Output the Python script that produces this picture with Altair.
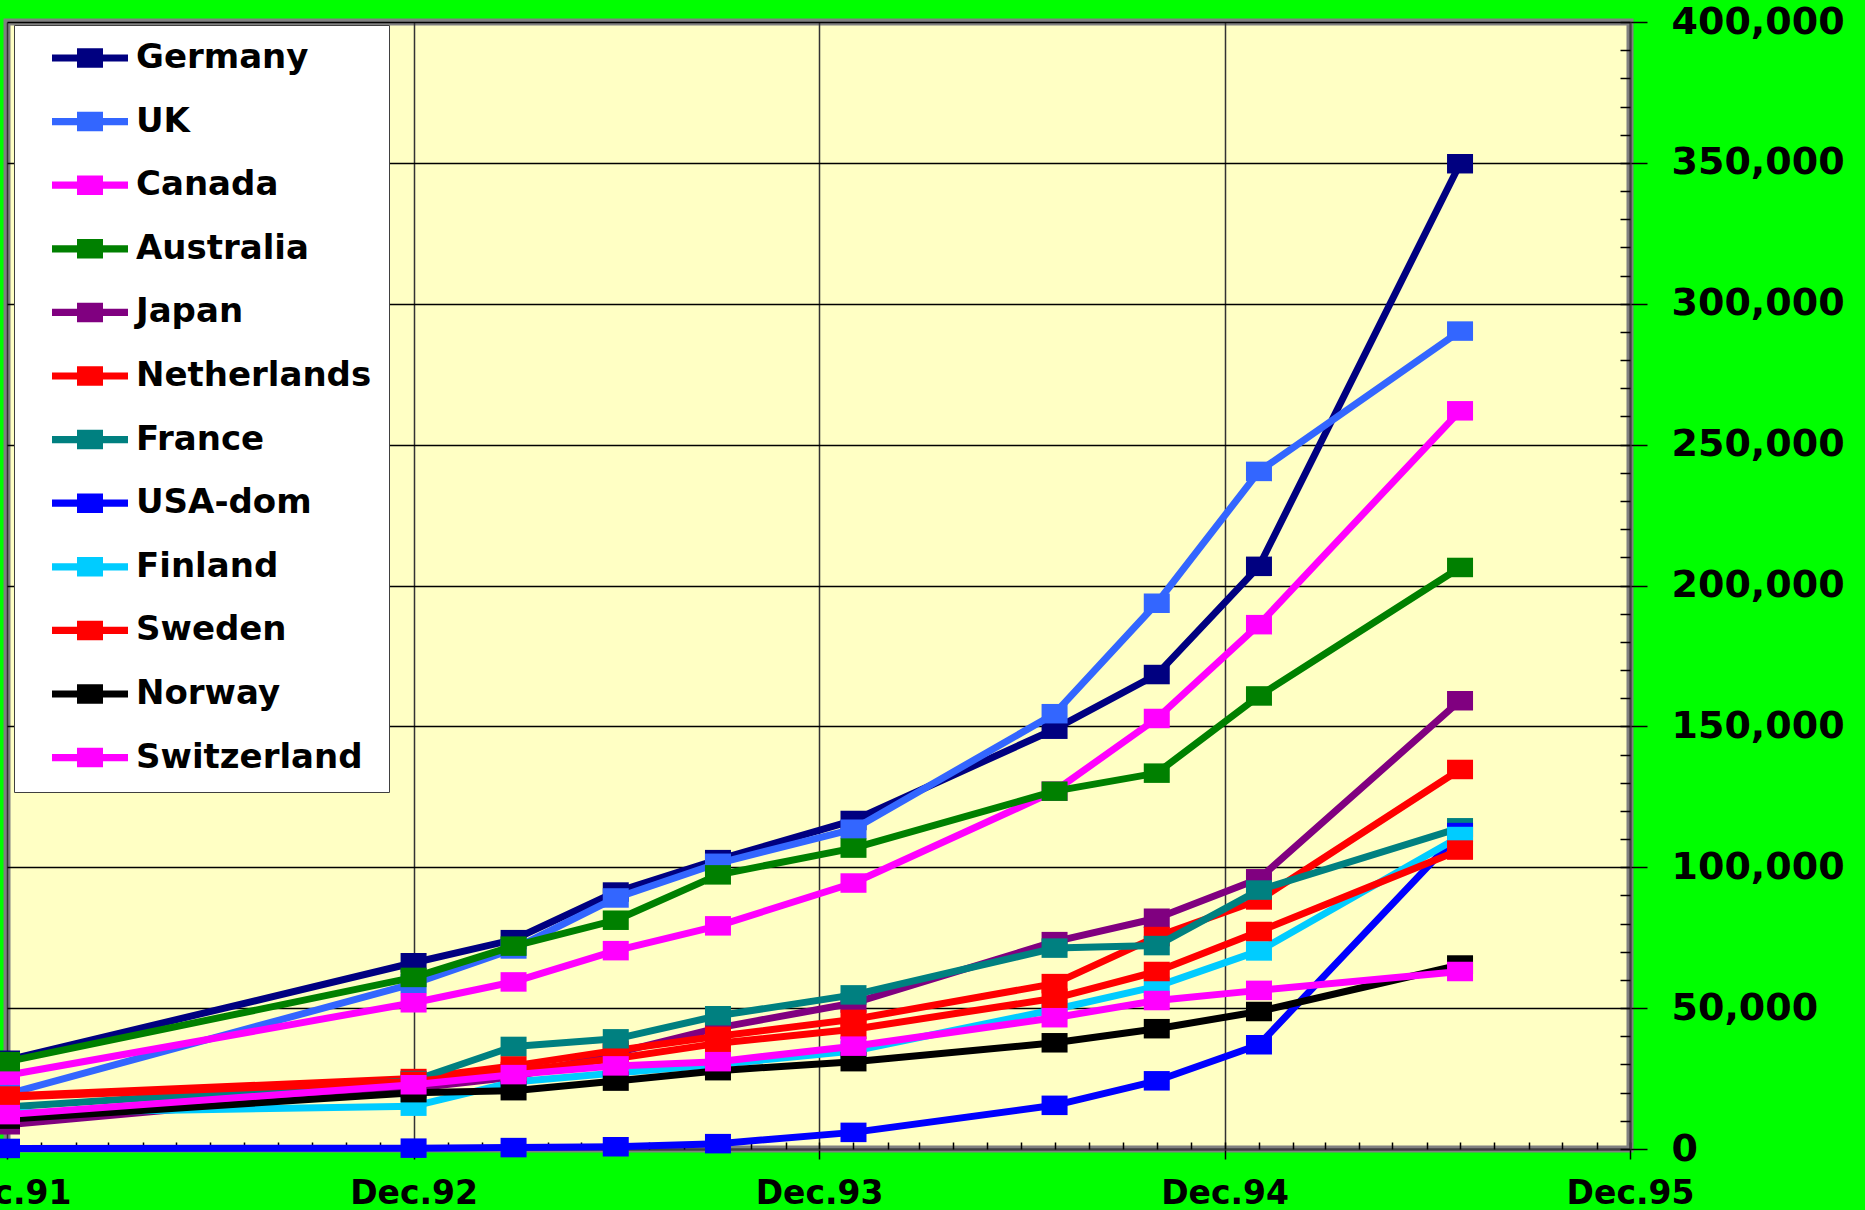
import altair as alt
import pandas as pd

# Survey dates (Internet host counts by country)
survey_dates = [
    "1991-12-01", "1992-12-01", "1993-03-01", "1993-06-01", "1993-09-01",
    "1994-01-01", "1994-07-01", "1994-10-01", "1995-01-01", "1995-07-01",
]

countries = [
    "Germany", "UK", "Canada", "Australia", "Japan", "Netherlands",
    "France", "USA-dom", "Finland", "Sweden", "Norway", "Switzerland",
]

colors = [
    "#000080", "#3366FF", "#FF00FF", "#008000", "#800080", "#FF0000",
    "#008080", "#0000FF", "#00CCFF", "#FF0000", "#000000", "#FF00FF",
]

germany = [31500, 66100, 74300, 91200, 102700, 116600, 149000, 168400, 206800, 349700]
uk = [19500, 58700, 71000, 89100, 101400, 113500, 154500, 193700, 240500, 290300]
canada = [26200, 51900, 59300, 70400, 79200, 94400, 127000, 152800, 186100, 262000]
australia = [31000, 60900, 72000, 81200, 97300, 106800, 127000, 133400, 160800, 206400]
japan = [8600, 21600, 25500, 34000, 43000, 51800, 73600, 81900, 95900, 159100]
netherlands = [18800, 25000, 29500, 35000, 40000, 46000, 58700, 75400, 88400, 134700]
france = [14900, 24300, 36400, 39100, 47300, 54700, 71300, 72200, 91900, 114000]
usa_dom = [200, 300, 500, 800, 1900, 5900, 15500, 24200, 37000, 112300]
finland = [12800, 15200, 23800, 27000, 30000, 34800, 49500, 57700, 70300, 110900]
sweden = [18400, 24000, 27500, 32100, 37500, 42500, 53500, 63000, 77200, 106100]
norway = [10600, 20000, 20700, 24100, 27800, 31000, 37700, 42700, 48800, 65300]
switzerland = [12200, 22800, 26400, 29500, 31000, 36500, 46600, 52700, 56300, 63000]

series = [germany, uk, canada, australia, japan, netherlands,
          france, usa_dom, finland, sweden, norway, switzerland]

year_ticks = [1991, 1992, 1993, 1994, 1995]
y_major = list(range(0, 400001, 50000))
y_minor = list(range(0, 400001, 10000))

rows = []
for name, values in zip(countries, series):
    for d, v in zip(survey_dates, values):
        rows.append({"country": name, "date": d, "hosts": v})
df = pd.DataFrame(rows)

FONT = "DejaVu Sans"

x_domain = [alt.DateTime(year=1991, month=12, date=1, utc=True),
            alt.DateTime(year=1995, month=12, date=1, utc=True)]
x_scale = alt.Scale(type="utc", domain=x_domain, nice=False)
y_scale = alt.Scale(domain=[0, 400000], nice=False, zero=True)

dec_ticks = [alt.DateTime(year=y, month=12, date=1, utc=True) for y in year_ticks]
month_ticks = [alt.DateTime(year=1991, month=12, date=1, utc=True)]
for y in range(1992, 1996):
    for m in range(1, 13):
        month_ticks.append(alt.DateTime(year=y, month=m, date=1, utc=True))

x_axis_major = alt.Axis(
    orient="bottom", values=dec_ticks, title=None,
    labelExpr="'Dec.' + utcFormat(datum.value, '%y')",
    labelFont=FONT, labelFontWeight="bold", labelFontSize=33, labelColor="black",
    labelPadding=18, labelFlush=False, labelOverlap=False, labelBound=False,
    tickSize=10, tickColor="black", tickWidth=1.5,
    domainColor="#404040", domainWidth=2,
    grid=True, gridColor="#333333", gridWidth=1.5,
)
x_axis_minor = alt.Axis(
    orient="bottom", values=month_ticks, title=None, labels=False,
    tickSize=7, offset=-7, tickColor="black", tickWidth=1.5,
    domain=False, grid=False,
)
y_axis_major = alt.Axis(
    orient="right", values=y_major, title=None,
    labelExpr="format(datum.value, ',.0f')",
    labelFont=FONT, labelFontWeight="bold", labelFontSize=38, labelColor="black",
    labelAlign="left", labelPadding=24, labelFlush=False, labelOverlap=False,
    tickSize=17, tickColor="black", tickWidth=1.5,
    domainColor="#404040", domainWidth=2,
    grid=True, gridColor="black", gridWidth=1.5,
)
y_axis_minor = alt.Axis(
    orient="right", values=y_minor, title=None, labels=False,
    tickSize=10, offset=-10, tickColor="black", tickWidth=1.5,
    domain=False, grid=False,
)

# Marker: a flat rectangle; legend symbol: line with the same rectangle on it
MARKER = "M-1,-0.75H1V0.75H-1Z"
LEGEND_SYMBOL = "M-1,-0.095H1V0.095H-1Z M-0.342,-0.257H0.342V0.257H-0.342Z"

legend = alt.Legend(
    orient="none", legendX=7, legendY=3, title=None,
    symbolType=LEGEND_SYMBOL, symbolSize=76 * 76, symbolStrokeWidth=0,
    symbolOffset=21, labelOffset=8, clipHeight=32,
    labelFont=FONT, labelFontWeight="bold", labelFontSize=34, labelColor="black",
    labelLimit=500, padding=17, rowPadding=29.6,
    fillColor="white", strokeColor="#404040",
)
color = alt.Color("country:N", scale=alt.Scale(domain=countries, range=colors),
                  legend=legend)

layers = []
for i, (name, col) in enumerate(zip(countries, colors)):
    sub = alt.Chart(df).transform_filter(alt.datum.country == name)
    line = sub.mark_line(strokeWidth=7, strokeJoin="round", strokeCap="round",
                         color=col).encode(
        x=alt.X("date:T", scale=x_scale, axis=x_axis_major if i == 0 else None),
        y=alt.Y("hosts:Q", scale=y_scale, axis=y_axis_major if i == 0 else None),
    )
    pts = sub.mark_point(shape=MARKER, size=676, filled=True, opacity=1,
                         strokeWidth=0).encode(
        x=alt.X("date:T", scale=x_scale, axis=x_axis_minor if i == 0 else None),
        y=alt.Y("hosts:Q", scale=y_scale, axis=y_axis_minor if i == 0 else None),
        color=color,
    )
    layers += [line, pts]

chart = (
    alt.layer(*layers)
    .resolve_axis(x="independent", y="independent")
    .properties(
        width=1623, height=1127,
        autosize=alt.AutoSizeParams(type="none"),
        padding={"left": 7, "top": 22, "right": 235, "bottom": 61},
        background="#00FF00",
    )
    .configure_view(fill="#FFFFC4", stroke="#808080", strokeWidth=7)
)

chart.save("out.html", embed_options={"renderer": "svg", "actions": False})
